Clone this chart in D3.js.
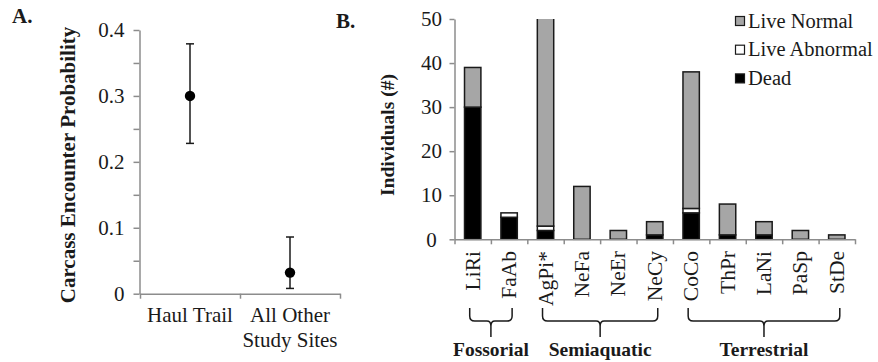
<!DOCTYPE html>
<html>
<head>
<meta charset="utf-8">
<script src="https://cdn.jsdelivr.net/npm/d3@7"></script>
<style>
  body { margin: 0; background: #fff; }
  svg, svg text { font-family: "Liberation Serif", "Times New Roman", serif; }
  .domain, .tick line { stroke: #8c8c8c; stroke-width: 1.5; }
  .tick text { fill: #1a1a1a; font-size: 21px; }
</style>
</head>
<body>
<svg id="chart" width="878" height="362"></svg>
<script>
// panel A data
var sites = [["Haul Trail"], ["All Other", "Study Sites"]];
var probMean = [0.30, 0.032];
var probLow = [0.228, 0.008];
var probHigh = [0.379, 0.086];
var probTicks = [0, 0.05, 0.1, 0.15, 0.2, 0.25, 0.3, 0.35, 0.4];

// panel B data
var species = ["LiRi", "FaAb", "AgPi*", "NeFa", "NeEr", "NeCy", "CoCo", "ThPr", "LaNi", "PaSp", "StDe"];
var dead = [30, 5, 2, 0, 0, 1, 6, 1, 1, 0, 0];
var liveAbnormal = [0, 1, 1, 0, 0, 0, 1, 0, 0, 0, 0];
var liveNormal = [9, 0, 57, 12, 2, 3, 31, 7, 3, 2, 1];
var countTicks = [0, 10, 20, 30, 40, 50];
var groupNames = ["Fossorial", "Semiaquatic", "Terrestrial"];
var groupFirst = ["LiRi", "AgPi*", "CoCo"];
var groupLast = ["FaAb", "NeCy", "StDe"];

var seriesKeys = ["dead", "abnormal", "normal"];
var seriesNames = {"normal": "Live Normal", "abnormal": "Live Abnormal", "dead": "Dead"};
var seriesFill = {"normal": "#a6a6a6", "abnormal": "#ffffff", "dead": "#000000"};

var svg = d3.select("#chart");
var ink = "#1a1a1a";

// ---------- Panel A ----------
var yA = d3.scaleLinear().domain([0, 0.4]).range([293.7, 30]);
var xA = d3.scaleBand().domain(d3.range(sites.length)).range([140, 340]);
var xAline = d3.scaleLinear().domain([0, sites.length]).range([140, 340]);

svg.append("g")
    .attr("transform", "translate(139.5,0)")
    .call(d3.axisLeft(yA)
        .tickValues(probTicks)
        .tickSize(6)
        .tickPadding(9)
        .tickSizeOuter(0)
        .tickFormat(function(d) {
            var k = Math.round(d * 100);
            if (k % 10 != 0) return "";
            return k == 0 ? "0" : d.toFixed(1);
        }));

svg.append("g")
    .attr("transform", "translate(0," + yA(0) + ")")
    .call(d3.axisBottom(xAline).tickValues(d3.range(sites.length + 1)).tickSize(5).tickSizeOuter(0).tickFormat(""));

var siteLabels = svg.append("g").selectAll("text")
        .data(sites)
        .enter()
    .append("text")
        .attr("text-anchor", "middle")
        .attr("font-size", 21)
        .attr("fill", ink)
        .attr("x", function(d, i) {return xA(i) + xA.bandwidth() / 2;})
        .attr("y", 322);

siteLabels.selectAll("tspan")
        .data(function(d) {return d;})
        .enter()
    .append("tspan")
        .attr("x", function() {return d3.select(this.parentNode).attr("x");})
        .attr("dy", function(d, j) {return j == 0 ? 0 : 25;})
        .text(function(d) {return d;});

var pts = svg.append("g").selectAll("g")
        .data(probMean)
        .enter()
    .append("g")
        .attr("transform", function(d, i) {return "translate(" + (xA(i) + xA.bandwidth() / 2) + ",0)";});

pts.append("line")
    .attr("y1", function(d, i) {return yA(probLow[i]);})
    .attr("y2", function(d, i) {return yA(probHigh[i]);})
    .attr("stroke", ink).attr("stroke-width", 1.5);
pts.append("line")
    .attr("x1", -4).attr("x2", 4)
    .attr("y1", function(d, i) {return yA(probLow[i]);})
    .attr("y2", function(d, i) {return yA(probLow[i]);})
    .attr("stroke", ink).attr("stroke-width", 1.5);
pts.append("line")
    .attr("x1", -4).attr("x2", 4)
    .attr("y1", function(d, i) {return yA(probHigh[i]);})
    .attr("y2", function(d, i) {return yA(probHigh[i]);})
    .attr("stroke", ink).attr("stroke-width", 1.5);
pts.append("circle")
    .attr("cy", function(d) {return yA(d);})
    .attr("r", 5.2)
    .attr("fill", "#000");

svg.append("text")
    .attr("transform", "translate(75,165) rotate(-90)")
    .attr("text-anchor", "middle")
    .attr("font-weight", "bold")
    .attr("font-size", 21)
    .attr("fill", ink)
    .text("Carcass Encounter Probability");

svg.append("text")
    .attr("x", 12).attr("y", 23)
    .attr("font-weight", "bold").attr("font-size", 21).attr("fill", ink)
    .text("A.");

// ---------- Panel B ----------
var yB = d3.scaleLinear().domain([0, 50]).range([239.3, 19]);
var xB = d3.scaleBand().domain(species).range([454.5, 855]).paddingInner(0.55).paddingOuter(0.275);
var xBline = d3.scaleLinear().domain([0, species.length]).range([454.5, 855]);

svg.append("g")
    .attr("transform", "translate(454.5,0)")
    .call(d3.axisLeft(yB).tickValues(countTicks).tickSize(5).tickPadding(0).tickSizeOuter(0))
    .selectAll(".tick text")
        .attr("text-anchor", "middle")
        .attr("x", -23);

var rows = species.map(function(s, i) {
    return {species: s, dead: dead[i], abnormal: liveAbnormal[i], normal: liveNormal[i]};
});
var stacked = d3.stack().keys(seriesKeys)(rows);

svg.append("clipPath").attr("id", "clipB")
    .append("rect").attr("x", 440).attr("y", yB(50)).attr("width", 430).attr("height", yB(0) - yB(50) + 2);

svg.append("g")
        .attr("clip-path", "url(#clipB)")
    .selectAll("g")
        .data(stacked)
        .enter()
    .append("g")
        .attr("fill", function(d) {return seriesFill[d.key];})
    .selectAll("rect")
        .data(function(d) {return d.filter(function(v) {return v[1] > v[0];});})
        .enter()
    .append("rect")
        .attr("x", function(d) {return xB(d.data.species);})
        .attr("width", xB.bandwidth())
        .attr("y", function(d) {return yB(d[1]);})
        .attr("height", function(d) {return yB(d[0]) - yB(d[1]);})
        .attr("stroke", ink)
        .attr("stroke-width", 1.5);

svg.append("g")
    .attr("transform", "translate(0," + yB(0) + ")")
    .call(d3.axisBottom(xBline).tickValues(d3.range(species.length + 1)).tickSize(5).tickSizeOuter(0).tickFormat(""));

svg.append("g").selectAll("text")
        .data(species)
        .enter()
    .append("text")
        .attr("transform", function(d) {return "translate(" + (xB(d) + xB.bandwidth() / 2) + ",251) rotate(-90)";})
        .attr("text-anchor", "end")
        .attr("dy", "0.33em")
        .attr("font-size", 21.5)
        .attr("fill", ink)
        .text(function(d) {return d;});

// group braces
var braces = svg.append("g").selectAll("g")
        .data(groupNames)
        .enter()
    .append("g");

braces.append("path")
    .attr("fill", "none")
    .attr("stroke", ink)
    .attr("stroke-width", 1.5)
    .attr("d", function(d, i) {
        var x0 = xB(groupFirst[i]) + xB.bandwidth() / 2 - 3,
            x1 = xB(groupLast[i]) + xB.bandwidth() / 2 + 3,
            cx = (x0 + x1) / 2;
        return "M" + x0 + ",308 V316 Q" + x0 + ",321 " + (x0 + 5) + ",321 H" + (cx - 4) +
            " Q" + cx + ",321 " + cx + ",326 V337 M" + cx + ",326 Q" + cx + ",321 " + (cx + 4) + ",321 H" +
            (x1 - 5) + " Q" + x1 + ",321 " + x1 + ",316 V308";
    });

braces.append("text")
    .attr("x", function(d, i) {return (xB(groupFirst[i]) + xB(groupLast[i]) + xB.bandwidth()) / 2;})
    .attr("y", 356)
    .attr("text-anchor", "middle")
    .attr("font-weight", "bold")
    .attr("font-size", 19.5)
    .attr("fill", ink)
    .text(function(d) {return d;});

svg.append("text")
    .attr("transform", "translate(394,135) rotate(-90)")
    .attr("text-anchor", "middle")
    .attr("font-weight", "bold")
    .attr("font-size", 19.5)
    .attr("fill", ink)
    .text("Individuals (#)");

svg.append("text")
    .attr("x", 336).attr("y", 28)
    .attr("font-weight", "bold").attr("font-size", 21).attr("fill", ink)
    .text("B.");

// legend
var legend = svg.append("g").selectAll("g")
        .data(["normal", "abnormal", "dead"])
        .enter()
    .append("g")
        .attr("transform", function(d, i) {return "translate(735," + (21 + i * 28.7) + ")";});

legend.append("rect")
    .attr("x", 0.5).attr("y", -4.5)
    .attr("width", 9).attr("height", 9)
    .attr("fill", function(d) {return seriesFill[d];})
    .attr("stroke", ink)
    .attr("stroke-width", 1.2);

legend.append("text")
    .attr("x", 13).attr("dy", "0.33em")
    .attr("font-size", 20.5)
    .attr("fill", ink)
    .text(function(d) {return seriesNames[d];});
</script>
</body>
</html>
